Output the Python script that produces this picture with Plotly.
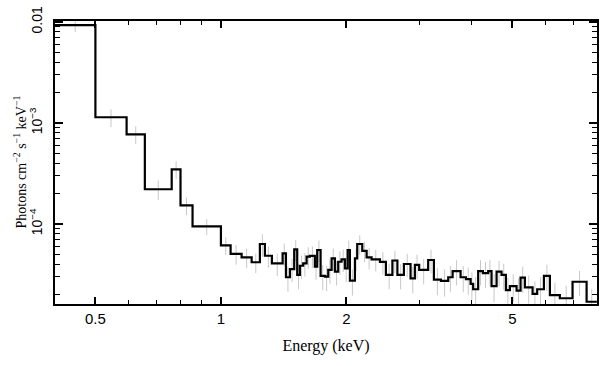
import numpy as np
import plotly.graph_objects as go

# Bin edges (keV) of the grouped spectrum
energy_edges = [0.40, 0.50, 0.594, 0.657, 0.762, 0.800, 0.855, 1.00, 1.055, 1.121,
                1.185, 1.240, 1.275, 1.325, 1.406, 1.432, 1.464, 1.499, 1.524, 1.547,
                1.575, 1.605, 1.635, 1.680, 1.702, 1.734, 1.776, 1.809, 1.843, 1.877,
                1.911, 1.947, 1.983, 2.013, 2.039, 2.096, 2.123, 2.183, 2.236, 2.298,
                2.406, 2.487, 2.578, 2.650, 2.747, 2.850, 2.919, 2.989, 3.141, 3.242,
                3.370, 3.509, 3.595, 3.757, 3.869, 3.971, 4.027, 4.140, 4.249, 4.375,
                4.458, 4.583, 4.710, 4.825, 4.932, 5.118, 5.232, 5.358, 5.591, 5.735,
                5.952, 6.152, 6.500, 6.972, 7.534, 7.975]

# Flux per bin (photons cm^-2 s^-1 keV^-1)
flux = [9.33e-3, 1.14e-3, 7.73e-4, 2.21e-4, 3.48e-4, 1.53e-4, 9.49e-5, 6.15e-5, 5.07e-5, 4.68e-5,
        4.18e-5, 6.34e-5, 4.85e-5, 4.08e-5, 5.13e-5, 2.97e-5, 3.58e-5, 5.62e-5, 3.13e-5, 3.86e-5,
        4.08e-5, 4.75e-5, 4.83e-5, 3.78e-5, 5.53e-5, 3.06e-5, 3.01e-5, 3.51e-5, 4.57e-5, 3.37e-5,
        4.23e-5, 4.47e-5, 3.64e-5, 5.53e-5, 2.75e-5, 4.57e-5, 6.34e-5, 5.41e-5, 4.68e-5, 4.47e-5,
        4.21e-5, 3.13e-5, 4.35e-5, 3.13e-5, 4.02e-5, 2.90e-5, 3.93e-5, 3.51e-5, 4.40e-5, 2.81e-5,
        2.73e-5, 2.97e-5, 3.42e-5, 2.97e-5, 2.85e-5, 2.55e-5, 2.26e-5, 3.42e-5, 3.27e-5, 3.42e-5,
        2.43e-5, 3.37e-5, 3.13e-5, 2.22e-5, 2.43e-5, 2.19e-5, 2.94e-5, 2.36e-5, 2.03e-5, 2.26e-5,
        3.06e-5, 1.98e-5, 1.84e-5, 2.68e-5, 1.70e-5]

# Relative 1-sigma errors per bin
rel_err = [0.15, 0.20, 0.20, 0.22, 0.20, 0.20, 0.18, 0.20, 0.22, 0.22,
           0.22, 0.25, 0.24, 0.25, 0.25, 0.28, 0.26, 0.24, 0.28, 0.26,
           0.26, 0.24, 0.24, 0.26, 0.24, 0.28, 0.28, 0.27, 0.25, 0.27,
           0.26, 0.25, 0.27, 0.24, 0.29, 0.25, 0.22, 0.23, 0.24, 0.24,
           0.25, 0.28, 0.25, 0.28, 0.26, 0.29, 0.27, 0.28, 0.26, 0.30,
           0.30, 0.29, 0.28, 0.29, 0.30, 0.30, 0.32, 0.28, 0.29, 0.28,
           0.31, 0.28, 0.29, 0.32, 0.31, 0.32, 0.29, 0.31, 0.33, 0.32,
           0.29, 0.33, 0.33, 0.28, 0.33]

x_major = [0.5, 1, 2, 5]
x_major_text = ["0.5", "1", "2", "5"]
x_minor = [0.4, 0.6, 0.7, 0.8, 0.9, 3, 4, 6, 7, 8]
y_major = [1e-4, 1e-3, 1e-2]
y_major_text = ["10<sup>−4</sup>", "10<sup>−3</sup>", "0.01"]
y_minor = [m * 10.0 ** p for p in (-5, -4, -3) for m in range(2, 10)]

x_title = "Energy (keV)"
y_title = "Photons cm<sup>−2</sup> s<sup>−1</sup> keV<sup>−1</sup>"

edges = np.array(energy_edges)
vals = np.array(flux)
centers = np.sqrt(edges[:-1] * edges[1:])
errs = vals * np.array(rel_err)

fig = go.Figure()
fig.add_trace(go.Scatter(
    x=centers, y=vals, mode="markers",
    marker=dict(size=0.1, color="rgba(0,0,0,0)"),
    error_y=dict(type="data", array=errs, color="#c8c8c8", thickness=1, width=0),
    hoverinfo="skip", showlegend=False))
fig.add_trace(go.Scatter(
    x=list(edges), y=list(vals) + [vals[-1]], mode="lines",
    line=dict(shape="hv", color="black", width=2.2),
    showlegend=False))

x_tick_font = dict(family="Liberation Sans, Arial, sans-serif", size=15, color="black")
y_tick_font = dict(family="Liberation Sans, Arial, sans-serif", size=14, color="black")
x_title_font = dict(family="Liberation Serif, Times New Roman, serif", size=16, color="black")
y_title_font = dict(family="Liberation Serif, Times New Roman, serif", size=14, color="black")

fig.update_layout(
    width=609, height=366,
    margin=dict(l=55, r=12, t=21, b=62),
    paper_bgcolor="white", plot_bgcolor="white",
    xaxis=dict(
        type="log", range=[np.log10(0.4), np.log10(7.98)],
        tickmode="array", tickvals=x_major, ticktext=x_major_text,
        ticks="inside", ticklen=7, tickwidth=1.5, tickcolor="black",
        minor=dict(tickmode="array", tickvals=x_minor, ticks="inside",
                   ticklen=4, tickwidth=1.2, tickcolor="black", showgrid=False),
        showline=True, linecolor="black", linewidth=1.8, mirror="allticks",
        showgrid=False, zeroline=False, tickfont=x_tick_font,
        ticklabelstandoff=0, automargin=False,
        title=dict(text=x_title, font=x_title_font, standoff=14),
    ),
    yaxis=dict(
        type="log", range=[-4.792, -1.990],
        tickmode="array", tickvals=y_major, ticktext=y_major_text,
        tickangle=-90,
        ticks="inside", ticklen=8, tickwidth=1.5, tickcolor="black",
        minor=dict(tickmode="array", tickvals=y_minor, ticks="inside",
                   ticklen=5, tickwidth=1.2, tickcolor="black", showgrid=False),
        showline=True, linecolor="black", linewidth=1.8, mirror="allticks",
        showgrid=False, zeroline=False, tickfont=y_tick_font,
        ticklabelstandoff=6, automargin=False,
    ),
    annotations=[dict(
        text=y_title, xref="paper", yref="paper",
        x=-35 / 542, y=0.5, xanchor="center", yanchor="middle",
        textangle=-90, showarrow=False, font=y_title_font)],
)

fig.write_html("out.html", config={"displayModeBar": False},
               post_script="document.body.style.margin='0px';document.body.style.padding='0px';")
